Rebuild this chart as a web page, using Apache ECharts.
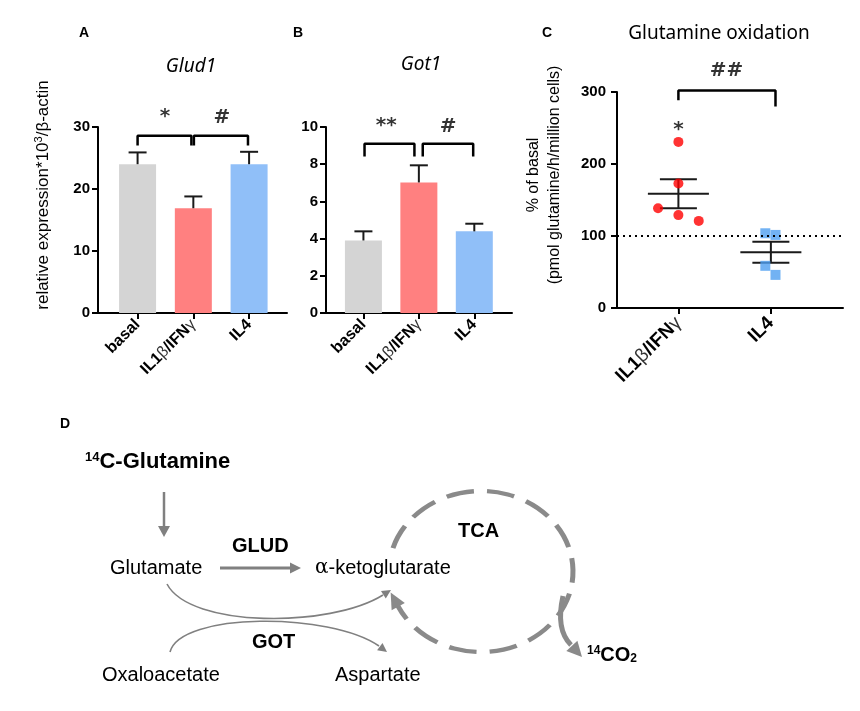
<!DOCTYPE html>
<html><head><meta charset="utf-8">
<script src="https://cdn.jsdelivr.net/npm/echarts@6/dist/echarts.min.js"></script>
<style>html,body{margin:0;padding:0;background:#fff}#c{width:860px;height:711px}</style>
</head><body><div id="c"></div>
<script>
// ---------- data ----------
const categories = ['basal', 'IL1β/IFNγ', 'IL4'];
const barColors = ['#d4d4d4', '#ff8080', '#90bff8'];
const glud1Mean = [24.0, 16.9, 24.0];
const glud1Sem = [1.9, 1.9, 2.0];
const got1Mean = [3.9, 7.02, 4.39];
const got1Sem = [0.49, 0.92, 0.41];
const glud1Ticks = [0, 10, 20, 30];
const got1Ticks = [0, 2, 4, 6, 8, 10];

const oxCategories = ['IL1β/IFNγ', 'IL4'];
const oxIL1 = [[0, 230.7], [0, 173], [-0.22, 138.5], [0, 129], [0.22, 121]];
const oxIL4 = [[0.94, 103.8], [1.05, 101.5], [0.94, 58.6], [1.05, 46]];
const oxMean = [158.7, 77.5];
const oxSem = [20, 14.6];
const oxBaseline = 100;

// significance brackets (data units) and marks
const glud1Brackets = [[[0, 27.0], [0, 28.6], [0.965, 28.6], [0.965, 27.0]],
                       [[1.01, 27.0], [1.01, 28.6], [1.98, 28.6], [1.98, 27.0]]];
const glud1Marks = [[0.49, 31.7, '*'], [1.51, 31.5, '#']];
const got1Brackets = [[[0.02, 8.42], [0.02, 9.1], [0.92, 9.1], [0.92, 8.42]],
                      [[1.07, 8.42], [1.07, 9.1], [1.98, 9.1], [1.98, 8.42]]];
const got1Marks = [[0.41, 10.07, '**'], [1.53, 10.03, '#']];
const oxBracket = [[0, 288.6], [0, 302], [1.05, 302], [1.05, 280]];
const oxMarks = [[0.52, 329, '##'], [0, 248, '*']];

// ---------- helpers ----------
const FONT = 'Liberation Sans, Arial, sans-serif';
const greek = s => s.replace(/([βγ])/g, '{g|$1}');

function xAxisCfg(grid, min, max, ticks, names, fs, margin) {
  return {
    type: 'value', gridIndex: grid, min: min, max: max,
    splitLine: { show: false },
    axisLine: { show: true, onZero: false, lineStyle: { color: '#000', width: 2 } },
    axisTick: { show: true, customValues: ticks, length: 6, lineStyle: { color: '#000', width: 2 } },
    axisLabel: {
      customValues: ticks, rotate: 45, margin: margin, color: '#000',
      fontFamily: FONT, fontWeight: 'bold', fontSize: fs,
      formatter: v => greek(names[Math.round(v)]),
      rich: { g: { fontFamily: FONT, fontWeight: 'normal', fontSize: fs, color: '#333' } }
    }
  };
}
function yAxisCfg(grid, max, interval, name, nameGap, shift, nameSize, labelMargin) {
  return {
    type: 'value', gridIndex: grid, min: 0, max: max, interval: interval,
    splitLine: { show: false },
    axisLine: { show: true, onZero: false, lineStyle: { color: '#000', width: 2 } },
    axisTick: { show: true, length: 6, lineStyle: { color: '#000', width: 2 } },
    axisLabel: { color: '#000', fontFamily: FONT, fontWeight: 'bold', fontSize: 15, margin: labelMargin },
    name: name, nameLocation: 'middle', nameGap: nameGap,
    nameTextStyle: {
      color: '#000', fontFamily: FONT, fontSize: nameSize, lineHeight: 21,
      padding: [0, 0, 0, shift],
      rich: { sup: { fontFamily: FONT, fontSize: 11, verticalAlign: 'top', color: '#000' } }
    }
  };
}
function barSeries(ai, means) {
  return {
    type: 'bar', xAxisIndex: ai, yAxisIndex: ai, barWidth: 37, z: 2,
    data: means.map((m, i) => ({ value: [i, m], itemStyle: { color: barColors[i] } }))
  };
}
function errSeries(ai, means, sems) {
  return {
    type: 'custom', xAxisIndex: ai, yAxisIndex: ai, z: 3,
    data: means.map((m, i) => [i, m, m + sems[i]]),
    renderItem(params, api) {
      const base = api.coord([api.value(0), api.value(1)]);
      const top = api.coord([api.value(0), api.value(2)]);
      const st = { stroke: '#1a1a1a', lineWidth: 2 };
      return { type: 'group', children: [
        { type: 'line', shape: { x1: base[0], y1: base[1], x2: top[0], y2: top[1] }, style: st },
        { type: 'line', shape: { x1: top[0] - 9, y1: top[1], x2: top[0] + 9, y2: top[1] }, style: st }
      ] };
    }
  };
}
function bracketSeries(ai, pts) {
  return {
    type: 'line', xAxisIndex: ai, yAxisIndex: ai, data: pts, symbol: 'none', clip: false, z: 4,
    lineStyle: { color: '#000', width: 2.5 }, silent: true
  };
}
function markSeries(ai, marks, fs) {
  return {
    type: 'scatter', xAxisIndex: ai, yAxisIndex: ai, clip: false, symbolSize: 1, z: 5,
    itemStyle: { color: 'rgba(0,0,0,0)' }, silent: true,
    data: marks.map(m => ({ value: [m[0], m[1]], label: { formatter: m[2] } })),
    label: { show: true, position: 'inside', color: '#000', fontFamily: 'DejaVu Sans', fontWeight: 'bold', fontSize: fs }
  };
}
function meanSemSeries(ai, means, sems) {
  return {
    type: 'custom', xAxisIndex: ai, yAxisIndex: ai, z: 3,
    data: means.map((m, i) => [i, m, sems[i]]),
    renderItem(params, api) {
      const x = api.value(0), m = api.value(1), s = api.value(2);
      const st = { stroke: '#1a1a1a', lineWidth: 2 };
      const ml = api.coord([x - 0.33, m]), mr = api.coord([x + 0.33, m]);
      const hl = api.coord([x - 0.2, m + s]), hr = api.coord([x + 0.2, m + s]);
      const ll = api.coord([x - 0.2, m - s]), lr = api.coord([x + 0.2, m - s]);
      const c = api.coord([x, m]);
      return { type: 'group', children: [
        { type: 'line', shape: { x1: ml[0], y1: ml[1], x2: mr[0], y2: mr[1] }, style: st },
        { type: 'line', shape: { x1: hl[0], y1: hl[1], x2: hr[0], y2: hr[1] }, style: st },
        { type: 'line', shape: { x1: ll[0], y1: ll[1], x2: lr[0], y2: lr[1] }, style: st },
        { type: 'line', shape: { x1: c[0], y1: hl[1], x2: c[0], y2: ll[1] }, style: st }
      ] };
    }
  };
}

// ---------- diagram (panel D) helpers ----------
const G = '#808080';
function arrowHead(tx, ty, fx, fy, len, hw, color) {
  const dx = tx - fx, dy = ty - fy, d = Math.hypot(dx, dy), ux = dx / d, uy = dy / d;
  const bx = tx - ux * len, by = ty - uy * len;
  return { type: 'polygon', shape: { points: [[tx, ty], [bx - uy * hw, by + ux * hw], [bx + uy * hw, by - ux * hw]] }, style: { fill: color } };
}
function txt(x, y, text, size, bold, extra) {
  return {
    type: 'text', x: x, y: y,
    style: Object.assign({ text: text, fill: '#000', font: (bold ? 'bold ' : '') + size + 'px ' + FONT,
      align: 'left', verticalAlign: 'middle' }, extra || {})
  };
}
const cx = 481, cy = 571.5, R = 92, sY = 0.875;
const a0 = Math.PI + 0.296, a1 = Math.PI - 0.44 + 2 * Math.PI;
const endX = cx + R * Math.cos(a1), endY = cy + R * sY * Math.sin(a1);
let tgx = -Math.sin(a1), tgy = Math.cos(a1) * sY; const tn = Math.hypot(tgx, tgy); tgx /= tn; tgy /= tn;

const diagram = [
  txt(60, 424, 'D', 14, true),
  txt(85, 462, '{sup|14}C-Glutamine', 22, true, { rich: { sup: { font: 'bold 13px ' + FONT, verticalAlign: 'top', fill: '#000' } } }),
  { type: 'line', shape: { x1: 164, y1: 492, x2: 164, y2: 527 }, style: { stroke: G, lineWidth: 2.5 } },
  arrowHead(164, 537, 164, 492, 11, 6, G),
  txt(110, 568, 'Glutamate', 20, false),
  txt(232, 546, 'GLUD', 20, true),
  { type: 'line', shape: { x1: 220, y1: 568, x2: 291, y2: 568 }, style: { stroke: G, lineWidth: 3 } },
  arrowHead(301, 568, 220, 568, 11, 5.5, G),
  txt(315, 568, '{a|α}-ketoglutarate', 20, false, { rich: { a: { font: '20px DejaVu Serif', fill: '#000' } } }),
  txt(458, 531, 'TCA', 20, true),
  { type: 'bezierCurve', shape: { x1: 167, y1: 584, cpx1: 190, cpy1: 628, cpx2: 330, cpy2: 628, x2: 383, y2: 595 }, style: { stroke: G, lineWidth: 1.6, fill: null } },
  arrowHead(391, 590, 383, 595, 9, 4.5, G),
  { type: 'bezierCurve', shape: { x1: 170, y1: 652, cpx1: 180, cpy1: 612, cpx2: 330, cpy2: 612, x2: 379, y2: 646 }, style: { stroke: G, lineWidth: 1.6, fill: null } },
  arrowHead(387, 652, 379, 646, 9, 4.5, G),
  txt(252, 642, 'GOT', 20, true),
  txt(102, 675, 'Oxaloacetate', 20, false),
  txt(335, 675, 'Aspartate', 20, false),
  { type: 'arc', x: cx, y: cy, scaleY: sY, originX: 0, originY: 0,
    shape: { cx: 0, cy: 0, r: R, startAngle: a0, endAngle: a1, clockwise: true },
    style: { stroke: '#8a8a8a', lineWidth: 5, lineDash: [28, 13], fill: null } },
  arrowHead(endX + tgx * 15, endY + tgy * 15, endX, endY, 16, 7.5, '#8a8a8a'),
  { type: 'bezierCurve', shape: { x1: 563, y1: 596, cpx1: 558, cpy1: 618, cpx2: 561, cpy2: 635, x2: 571, y2: 645 }, style: { stroke: '#8a8a8a', lineWidth: 5, fill: null } },
  arrowHead(582, 657, 571, 645, 15, 7.5, '#8a8a8a'),
  txt(587, 655, '{sup|14}CO{sub|2}', 20, true, { rich: {
    sup: { font: 'bold 12px ' + FONT, verticalAlign: 'top', fill: '#000' },
    sub: { font: 'bold 12px ' + FONT, verticalAlign: 'bottom', fill: '#000' } } })
];

const headers = [
  txt(79, 33, 'A', 14, true),
  txt(293, 33, 'B', 14, true),
  txt(542, 33, 'C', 14, true),
  { type: 'text', x: 191, y: 67, style: { text: 'Glud1', fill: '#000', font: 'italic 19px Noto Sans', align: 'center', verticalAlign: 'middle' } },
  { type: 'text', x: 421, y: 65, style: { text: 'Got1', fill: '#000', font: 'italic 19px Noto Sans', align: 'center', verticalAlign: 'middle' } },
  { type: 'text', x: 719, y: 34, style: { text: 'Glutamine oxidation', fill: '#000', font: '19px Noto Sans', align: 'center', verticalAlign: 'middle' } }
];

// ---------- chart ----------
const chart = echarts.init(document.getElementById('c'), null, { renderer: 'canvas' });
chart.setOption({
  animation: false,
  backgroundColor: '#fff',
  grid: [
    { left: 98, top: 127, width: 189, height: 186 },
    { left: 326, top: 127, width: 186, height: 186 },
    { left: 617, top: 92, width: 226, height: 216 }
  ],
  xAxis: [
    xAxisCfg(0, -0.71, 2.68, [0, 1, 2], categories, 16, 9),
    xAxisCfg(1, -0.675, 2.68, [0, 1, 2], categories, 16, 9),
    xAxisCfg(2, -0.664, 1.78, [0, 1], oxCategories, 19, 12)
  ],
  yAxis: [
    yAxisCfg(0, glud1Ticks[glud1Ticks.length - 1], glud1Ticks[1] - glud1Ticks[0], 'relative expression*10{sup|3}/β-actin', 44, 50, 17, 8),
    yAxisCfg(1, got1Ticks[got1Ticks.length - 1], got1Ticks[1] - got1Ticks[0], '', 40, 0, 15, 8),
    yAxisCfg(2, 300, 100, '% of basal\n(pmol glutamine/h/million cells)', 52, 50, 16, 11)
  ],
  series: [
    barSeries(0, glud1Mean), errSeries(0, glud1Mean, glud1Sem),
    bracketSeries(0, glud1Brackets[0]), bracketSeries(0, glud1Brackets[1]), markSeries(0, glud1Marks, 20),
    barSeries(1, got1Mean), errSeries(1, got1Mean, got1Sem),
    bracketSeries(1, got1Brackets[0]), bracketSeries(1, got1Brackets[1]), markSeries(1, got1Marks, 20),
    {
      type: 'scatter', xAxisIndex: 2, yAxisIndex: 2, data: oxIL1, symbol: 'circle', symbolSize: 10,
      itemStyle: { color: '#ff0000' }, z: 4,
      markLine: { silent: true, symbol: 'none', label: { show: false },
        lineStyle: { color: '#000', width: 2, type: [2, 4] }, data: [{ yAxis: oxBaseline }] }
    },
    { type: 'scatter', xAxisIndex: 2, yAxisIndex: 2, data: oxIL4, symbol: 'rect', symbolSize: 10,
      itemStyle: { color: '#4f9ff0' }, z: 4 },
    meanSemSeries(2, oxMean, oxSem),
    bracketSeries(2, oxBracket), markSeries(2, oxMarks, 20)
  ],
  graphic: headers.concat(diagram)
});
</script>
</body></html>
